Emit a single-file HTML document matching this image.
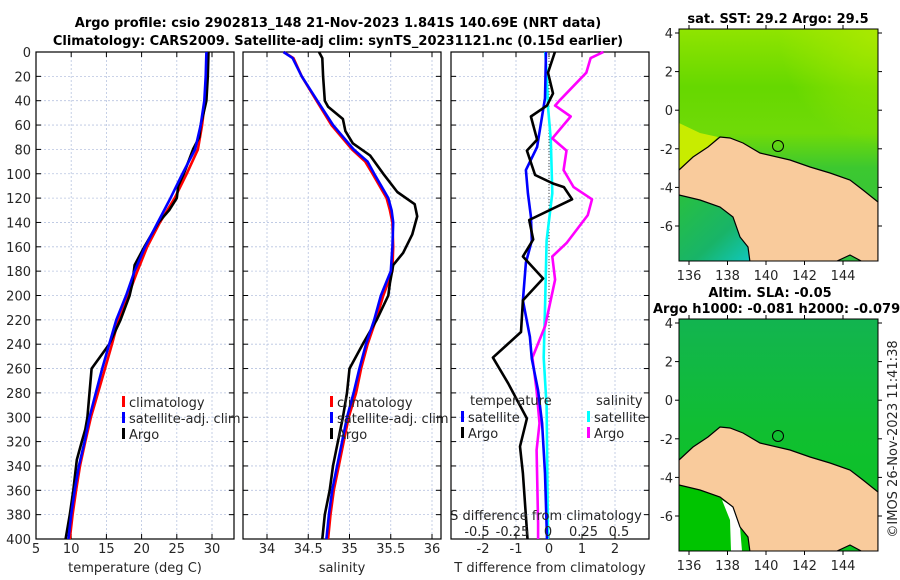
<!DOCTYPE html>
<html><head><meta charset="utf-8">
<style>
body{margin:0;background:#fff;}
svg{display:block;font-family:"DejaVu Sans","Liberation Sans",sans-serif;}
.t{font-size:13px;fill:#262626;}
.tb{font-size:13px;font-weight:bold;fill:#000;}
.grid{stroke:#b8c4e0;stroke-width:0.8;stroke-dasharray:2,2;}
</style></head>
<body>
<svg id="fig" width="900" height="580" viewBox="0 0 900 580">
<text class="tb" x="338" y="27" text-anchor="middle">Argo profile: csio 2902813_148 21-Nov-2023 1.841S 140.69E (NRT data)</text>
<text class="tb" x="338" y="45" text-anchor="middle">Climatology: CARS2009. Satellite-adj clim: synTS_20231121.nc (0.15d earlier)</text>
<g id="p1"></g>
<g id="p2"></g>
<g id="p3"></g>

<defs>
<linearGradient id="sstg" x1="0" y1="0" x2="0" y2="1">
<stop offset="0" stop-color="#90e400"/><stop offset="0.25" stop-color="#66d800"/><stop offset="0.45" stop-color="#70da08"/><stop offset="0.6" stop-color="#3cc830"/><stop offset="1" stop-color="#30c040"/>
</linearGradient>
<radialGradient id="sstr" cx="1" cy="0" r="0.5">
<stop offset="0" stop-color="#b0ea00" stop-opacity="0.8"/><stop offset="1" stop-color="#b0ea00" stop-opacity="0"/>
</radialGradient>
<linearGradient id="sstll" x1="0" y1="0" x2="1" y2="1">
<stop offset="0" stop-color="#28c040"/><stop offset="0.6" stop-color="#18b468"/><stop offset="1" stop-color="#10c8c0"/>
</linearGradient>
<linearGradient id="slag" x1="0" y1="0" x2="0" y2="1">
<stop offset="0" stop-color="#12b450"/><stop offset="0.5" stop-color="#10bf30"/><stop offset="1" stop-color="#08c420"/>
</linearGradient>
<clipPath id="c1"><rect x="679" y="29" width="199" height="232"/></clipPath>
<clipPath id="c2"><rect x="679" y="319" width="199" height="232"/></clipPath>
<path id="land" d="M679,170 L693,157 L708,147 L720,137 L730,138 L743,143 L760,153 L790,160 L810,167 L830,173 L850,180 L863,190 L878,202 L878,262 L863,262 L850,255 L835,262 L750,262 L748,247 L740,237 L733,217 L720,207 L700,200 L679,195 Z" fill="#f9cb9c" stroke="#000" stroke-width="1.2"/>
</defs>
<g>
<text class="tb" x="778" y="23" text-anchor="middle">sat. SST: 29.2 Argo: 29.5</text>
<g clip-path="url(#c1)">
<rect x="679" y="29" width="199" height="232" fill="url(#sstg)"/>
<rect x="679" y="29" width="199" height="232" fill="url(#sstr)"/>
<path d="M679,123 L700,133 L718,137 L708,147 L693,157 L679,170 Z" fill="#c8ec00"/>
<path d="M679,195 L740,210 L752,261 L679,261 Z" fill="url(#sstll)"/>
<use href="#land"/>
</g>
<circle cx="778" cy="146" r="5.5" fill="none" stroke="#000" stroke-width="1"/>
<rect x="679" y="29" width="199" height="232" fill="none" stroke="#000" stroke-width="1"/>
<g id="mapticks1"></g>
</g>
<g>
<text class="tb" x="770" y="297" text-anchor="middle">Altim. SLA: -0.05</text>
<text class="tb" x="653" y="313">Argo h1000: -0.081 h2000: -0.079</text>
<g clip-path="url(#c2)">
<rect x="679" y="319" width="199" height="232" fill="url(#slag)"/>
<path d="M679,485 L740,500 L752,551 L679,551 Z" fill="#00c400"/>
<path d="M722,500 L733,507 L740,527 L742,551 L731,551 L730,520 Z" fill="#ffffff"/>
<use href="#land" transform="translate(0,290)"/>
</g>
<circle cx="778" cy="436" r="5.5" fill="none" stroke="#000" stroke-width="1"/>
<rect x="679" y="319" width="199" height="232" fill="none" stroke="#000" stroke-width="1"/>
<g id="mapticks2"></g>
</g>
<text class="t" x="0" y="0" transform="translate(897,439) rotate(-90)" text-anchor="middle">©IMOS 26-Nov-2023 11:41:38</text>

<script>
const depthTicks=[0,20,40,60,80,100,120,140,160,180,200,220,240,260,280,300,320,340,360,380,400];
const tempTicks=[5,10,15,20,25,30];
const salTicks=[34,34.5,35,35.5,36];
const tdiffTicks=[-2,-1,0,1,2];
const sdiffTicks=[-0.5,-0.25,0,0.25,0.5];
const climDepth=[0,20,40,60,80,100,120,140,160,180,200,220,240,260,280,300,320,340,360,380,400];
const tClim=[29.3,29.2,29.0,28.6,28.0,26.4,24.7,22.6,20.8,19.4,18.1,16.7,15.8,14.8,13.8,12.8,12.0,11.25,10.7,10.2,9.8];
const tSat=[29.2,29.1,28.9,28.4,27.6,25.8,24.1,22.3,20.5,19.0,17.8,16.4,15.4,14.4,13.5,12.6,11.9,11.1,10.5,10.0,9.6];
const argoTDepth=[0,20,40,50,60,70,80,100,110,120,130,140,160,175,190,200,220,240,260,280,300,310,320,335,360,380,400];
const tArgo=[29.5,29.4,29.2,28.8,28.4,28.2,27.3,26.0,25.2,25.0,23.9,22.4,20.4,19.0,18.7,18.3,17.0,15.4,12.9,12.6,12.3,12.0,11.5,10.8,10.3,9.8,9.2];
const sDepth=[0,5,20,40,60,80,90,100,120,130,140,160,180,200,220,240,260,280,300,320,340,360,380,400];
const sClim=[34.2,34.32,34.42,34.6,34.78,35.03,35.19,35.28,35.45,35.49,35.52,35.53,35.52,35.41,35.32,35.22,35.14,35.08,34.99,34.93,34.87,34.81,34.77,34.74];
const sSat=[34.2,34.31,34.42,34.61,34.8,35.05,35.22,35.3,35.47,35.51,35.53,35.52,35.5,35.38,35.3,35.2,35.12,35.05,34.97,34.91,34.85,34.79,34.75,34.72];
const argoSDepth=[0,5,20,40,45,55,65,75,85,100,115,125,135,150,165,175,190,200,220,240,260,280,300,320,340,360,380,400];
const sArgo=[34.63,34.67,34.68,34.7,34.74,34.92,34.95,35.04,35.25,35.41,35.58,35.79,35.82,35.76,35.65,35.53,35.49,35.47,35.33,35.16,35.0,34.97,34.92,34.86,34.8,34.76,34.7,34.67];
const dTSatDepth=[0,38,78,97,116,135,155,173,204,234,252,278,305,346,400];
const dTSat=[-0.09,-0.12,-0.36,-0.7,-0.64,-0.55,-0.52,-0.7,-0.79,-0.58,-0.52,-0.33,-0.21,-0.12,-0.06];
const dTArgoDepth=[0,17,34,44,53,72,81,101,108,111,121,138,154,168,186,204,230,251,272,301,324,346,400];
const dTArgo=[0.18,-0.03,0.12,-0.06,-0.55,-0.36,-0.67,-0.42,0.12,0.45,0.7,-0.6,-0.48,-0.79,-0.18,-0.79,-0.85,-1.7,-1.24,-0.67,-0.88,-0.79,-0.65];
const dSSatDepth=[0,17,45,72,116,155,204,251,291,400];
const dSSat=[-0.02,-0.01,0.0,0.02,0.03,-0.01,-0.02,-0.03,-0.01,0.0];
const dSArgoDepth=[0,5,17,40,44,53,71,81,97,111,121,134,157,168,187,225,251,278,305,327,387,400];
const dSArgo=[0.39,0.3,0.27,0.08,0.05,0.16,0.03,0.13,0.11,0.18,0.31,0.28,0.13,0.03,0.05,-0.02,-0.11,-0.08,-0.06,-0.08,-0.07,-0.07];
const latTicks=[4,2,0,-2,-4,-6];
const lonTicks=[136,138,140,142,144];

const NS='http://www.w3.org/2000/svg';
const top0=52,bot0=539;
const yD=d=>top0+(d/400)*(bot0-top0);
function mk(tag,attrs,parent,txt){const e=document.createElementNS(NS,tag);for(const k in attrs)e.setAttribute(k,attrs[k]);if(txt!==undefined)e.textContent=txt;parent.appendChild(e);return e;}
function lin(x0,x1,v0,v1){return v=>x0+(v-v0)/(v1-v0)*(x1-x0);}
const xT=lin(36,212,5,30);
const xS=lin(267,432,34,36);
const xTD=lin(483,615,-2,2);
const xSD=lin(548,619,0,0.5);

function panel(g,L,R,xf,xticks,xlabel,fmt,showY){
  for(const d of depthTicks){const y=yD(d);const l=mk('line',{x1:L,x2:R,y1:y,y2:y,class:'grid'},g);
    
    
    mk('line',{x1:L,x2:L+5,y1:y,y2:y,stroke:'#000'},g);mk('line',{x1:R-5,x2:R,y1:y,y2:y,stroke:'#000'},g);
    if(showY){const t=mk('text',{x:L-5,y:y+5,class:'t','text-anchor':'end'},g,String(d));
      
      }}
  for(const v of xticks){const x=xf(v);const l=mk('line',{x1:x,x2:x,y1:top0,y2:bot0,class:'grid'},g);
    
    
    mk('line',{x1:x,x2:x,y1:bot0-5,y2:bot0,stroke:'#000'},g);mk('line',{x1:x,x2:x,y1:top0,y2:top0+5,stroke:'#000'},g);
    const t=mk('text',{x:x,y:553,class:'t','text-anchor':'middle'},g,fmt(v));
    
    }
  const f=mk('rect',{x:L,y:top0,width:R-L,height:bot0-top0,fill:'none',stroke:'#000','stroke-width':1.2},g);
  
  
  const xl=mk('text',{x:(L+R)/2,y:572,class:'t','text-anchor':'middle'},g,xlabel);
  
  
}
function series(g,xf,vals,depths,color,name){
  const pts=vals.map((v,i)=>xf(v).toFixed(1)+','+yD(depths[i]).toFixed(1)).join(' ');
  const p=mk('polyline',{points:pts,fill:'none',stroke:color,'stroke-width':2.6,'stroke-linejoin':'round'},g);
  
  
}
function legend(g,x,y,color,label){
  mk('rect',{x:x,y:y-11,width:3,height:11,fill:color},g);
  const t=mk('text',{x:x+7,y:y,class:'t'},g,label);
  
  
}
const p1=document.getElementById('p1'),p2=document.getElementById('p2'),p3=document.getElementById('p3');
panel(p1,36,234,xT,tempTicks,'temperature (deg C)',String,true);
series(p1,xT,tClim,climDepth,'#ff0000','temp-climatology-line');
series(p1,xT,tArgo,argoTDepth,'#000000','temp-argo-line');
series(p1,xT,tSat,climDepth,'#0000ff','temp-satellite-line');
legend(p1,122,407,'#ff0000','climatology');legend(p1,122,423,'#0000ff','satellite-adj. clim');legend(p1,122,439,'#000','Argo');

panel(p2,243,441,xS,salTicks,'salinity',String,false);
series(p2,xS,sClim,sDepth,'#ff0000','sal-climatology-line');
series(p2,xS,sArgo,argoSDepth,'#000000','sal-argo-line');
series(p2,xS,sSat,sDepth,'#0000ff','sal-satellite-line');
legend(p2,330,407,'#ff0000','climatology');legend(p2,330,423,'#0000ff','satellite-adj. clim');legend(p2,330,439,'#000','Argo');

panel(p3,451,649,xTD,tdiffTicks,'T difference from climatology',String,false);
mk('line',{x1:xTD(0),x2:xTD(0),y1:top0,y2:370,stroke:'#444','stroke-width':1,'stroke-dasharray':'1,2'},p3);
series(p3,xSD,dSSat,dSSatDepth,'#00ffff','sdiff-satellite-line');
series(p3,xSD,dSArgo,dSArgoDepth,'#ff00ff','sdiff-argo-line');
series(p3,xTD,dTSat,dTSatDepth,'#0000ff','tdiff-satellite-line');
series(p3,xTD,dTArgo,dTArgoDepth,'#000000','tdiff-argo-line');
mk('text',{x:470,y:405,class:'t'},p3,'temperature');
mk('text',{x:596,y:405,class:'t'},p3,'salinity');
legend(p3,461,422,'#0000ff','satellite');legend(p3,461,438,'#000','Argo');
legend(p3,587,422,'#00ffff','satellite');legend(p3,587,438,'#ff00ff','Argo');
mk('text',{x:546,y:520,class:'t','text-anchor':'middle'},p3,'S difference from climatology');
for(const v of sdiffTicks){const t=mk('text',{x:xSD(v),y:536,class:'t','text-anchor':'middle'},p3,String(v));
  
  }

function mapTicks(id,latY4,topY,bottomY){
  const g=document.getElementById(id);
  const yL=lat=>latY4+(4-lat)*19.3, xL=lin(689,843,136,144);
  for(const la of latTicks){const y=yL(la);mk('line',{x1:679,x2:675,y1:y,y2:y,stroke:'#000'},g);mk('line',{x1:878,x2:882,y1:y,y2:y,stroke:'#000'},g);
    const t=mk('text',{x:673,y:y+5,class:'t','text-anchor':'end'},g,String(la));
    
    }
  for(const lo of lonTicks){const x=xL(lo);mk('line',{x1:x,x2:x,y1:bottomY,y2:bottomY+4,stroke:'#000'},g);mk('line',{x1:x,x2:x,y1:topY-4,y2:topY,stroke:'#000'},g);
    const t=mk('text',{x:x,y:bottomY+19,class:'t','text-anchor':'middle'},g,String(lo));
    
    }
}
mapTicks('mapticks1',33,29,261);
mapTicks('mapticks2',323,319,551);
</script>
</svg>
</body></html>
